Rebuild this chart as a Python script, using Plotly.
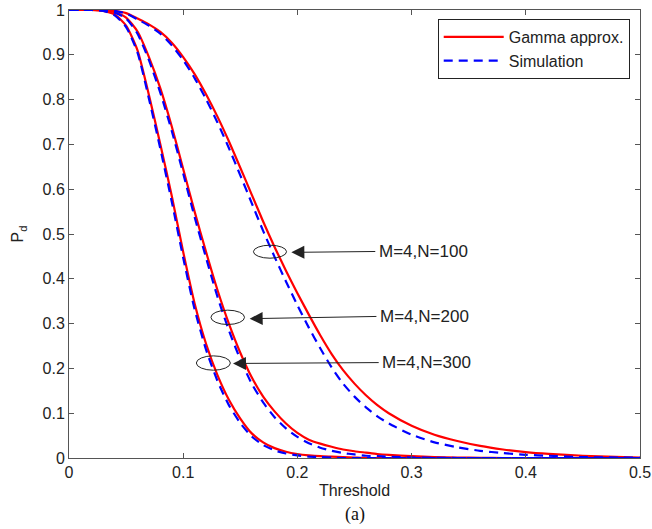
import plotly.graph_objects as go

# Threshold grid
threshold = [0, 0.01, 0.02, 0.03, 0.04, 0.05, 0.06, 0.07, 0.08, 0.09, 0.10, 0.11, 0.12,
             0.13, 0.14, 0.15, 0.16, 0.17, 0.18, 0.19, 0.20, 0.21, 0.22, 0.23, 0.24, 0.25,
             0.26, 0.27, 0.28, 0.30, 0.32, 0.34, 0.36, 0.38, 0.40, 0.42, 0.45, 0.50]

# M=4, N=100
gamma_n100 = [1, 1, 1, 1, 0.998, 0.993, 0.981, 0.968, 0.951, 0.927, 0.895, 0.857, 0.812,
              0.762, 0.707, 0.648, 0.588, 0.528, 0.471, 0.418, 0.368, 0.32, 0.274, 0.232, 0.196, 0.166,
              0.14, 0.118, 0.1, 0.072, 0.052, 0.038, 0.027, 0.019, 0.013, 0.009, 0.005, 0.001]
sim_n100 = [1, 1, 1, 1, 0.998, 0.992, 0.979, 0.965, 0.947, 0.921, 0.888, 0.848, 0.801,
            0.749, 0.692, 0.631, 0.569, 0.507, 0.449, 0.394, 0.341, 0.291, 0.245, 0.202, 0.166, 0.137,
            0.113, 0.093, 0.077, 0.052, 0.035, 0.024, 0.016, 0.011, 0.007, 0.005, 0.002, 0.0005]

# M=4, N=200
gamma_n200 = [1, 1, 1, 0.999, 0.995, 0.983, 0.952, 0.895, 0.825, 0.74, 0.645, 0.55, 0.46,
              0.375, 0.3, 0.235, 0.18, 0.137, 0.104, 0.077, 0.056, 0.041, 0.032, 0.025, 0.019, 0.015,
              0.012, 0.009, 0.007, 0.004, 0.002, 0.001, 0.0005, 0, 0, 0, 0, 0]
sim_n200 = [1, 1, 1, 0.999, 0.994, 0.981, 0.947, 0.888, 0.815, 0.73, 0.635, 0.538, 0.447,
            0.36, 0.285, 0.22, 0.166, 0.124, 0.091, 0.066, 0.047, 0.033, 0.023, 0.016, 0.011, 0.008,
            0.005, 0.004, 0.003, 0.001, 0.0005, 0, 0, 0, 0, 0, 0, 0]

# M=4, N=300
gamma_n300 = [1, 1, 1, 0.998, 0.99, 0.965, 0.91, 0.81, 0.70, 0.585, 0.46, 0.345, 0.255,
              0.185, 0.13, 0.088, 0.055, 0.035, 0.022, 0.014, 0.009, 0.006, 0.004, 0.003, 0.002, 0.001,
              0, 0, 0, 0, 0, 0, 0, 0, 0, 0, 0, 0]
sim_n300 = [1, 1, 1, 0.998, 0.988, 0.962, 0.905, 0.802, 0.69, 0.572, 0.447, 0.332, 0.242,
            0.172, 0.118, 0.078, 0.048, 0.029, 0.017, 0.01, 0.006, 0.003, 0.002, 0.001, 0, 0,
            0, 0, 0, 0, 0, 0, 0, 0, 0, 0, 0, 0]

labels = ["M=4,N=100", "M=4,N=200", "M=4,N=300"]
# ellipse centres / semi-axes (data units), arrow tip, text start
ell_cx = [0.176, 0.139, 0.1264]
ell_cy = [0.4605, 0.314, 0.212]
ell_rx = [0.0145, 0.0147, 0.0149]
ell_ry = [0.0145, 0.016, 0.016]
arrow_tip_x = [0.1947, 0.1582, 0.1436]
arrow_tip_y = [0.459, 0.311, 0.211]
text_x = [0.2695, 0.2705, 0.2725]
text_y = [0.461, 0.316, 0.213]

fig = go.Figure()

pairs = [(gamma_n100, sim_n100), (gamma_n200, sim_n200), (gamma_n300, sim_n300)]
for i, (g, s) in enumerate(pairs):
    fig.add_trace(go.Scatter(x=threshold, y=g, mode="lines", name="Gamma approx.",
                             line=dict(color="#ff0000", width=2.2, shape="spline", smoothing=0.6),
                             legendgroup="g", showlegend=(i == 0)))
for i, (g, s) in enumerate(pairs):
    fig.add_trace(go.Scatter(x=threshold, y=s, mode="lines", name="Simulation",
                             line=dict(color="#0000ff", width=2.2, dash="9px,6px",
                                       shape="spline", smoothing=0.6),
                             legendgroup="s", showlegend=(i == 0)))

for i in range(3):
    fig.add_shape(type="circle", xref="x", yref="y",
                  x0=ell_cx[i] - ell_rx[i], x1=ell_cx[i] + ell_rx[i],
                  y0=ell_cy[i] - ell_ry[i], y1=ell_cy[i] + ell_ry[i],
                  line=dict(color="#222222", width=1))
    fig.add_annotation(x=arrow_tip_x[i], y=arrow_tip_y[i], ax=text_x[i], ay=text_y[i],
                       xref="x", yref="y", axref="x", ayref="y", text="",
                       showarrow=True, arrowhead=2, arrowsize=2.6, arrowwidth=1,
                       arrowcolor="#222222")
    fig.add_annotation(x=text_x[i], y=text_y[i], xref="x", yref="y", text=labels[i],
                       showarrow=False, xanchor="left", yanchor="middle",
                       font=dict(family="Liberation Sans, Arial", size=17, color="#222222"))

fig.add_annotation(x=0.5, xref="paper", y=-0.127, yref="paper", yanchor="middle",
                   text="(a)", showarrow=False,
                   font=dict(family="Liberation Serif, Times New Roman", size=18, color="#111111"))

axis_common = dict(showline=True, linecolor="#555555", linewidth=1, mirror="ticks",
                   ticks="inside", ticklen=5, tickcolor="#555555", showgrid=False,
                   zeroline=False, automargin=False,
                   tickfont=dict(family="Liberation Sans, Arial", size=16, color="#222222"))

fig.update_xaxes(range=[0, 0.5], tickvals=[0, 0.1, 0.2, 0.3, 0.4, 0.5],
                 ticktext=["0", "0.1", "0.2", "0.3", "0.4", "0.5"],
                 title=dict(text="Threshold", standoff=4,
                            font=dict(family="Liberation Sans, Arial", size=16, color="#222222")),
                 **axis_common)
fig.update_yaxes(range=[0, 1], tickvals=[i / 10 for i in range(11)],
                 ticktext=["0", "0.1", "0.2", "0.3", "0.4", "0.5", "0.6", "0.7", "0.8", "0.9", "1"],
                 title=dict(text="P<sub>d</sub>", standoff=14,
                            font=dict(family="Liberation Sans, Arial", size=16, color="#222222")),
                 **axis_common)

fig.update_layout(
    width=652, height=529,
    margin=dict(l=69, r=12, t=10, b=71),
    plot_bgcolor="white", paper_bgcolor="white",
    legend=dict(x=0.982, y=0.98, xanchor="right", yanchor="top",
                bgcolor="white", bordercolor="#222222", borderwidth=1,
                font=dict(family="Liberation Sans, Arial", size=16, color="#222222"),
                itemwidth=60, tracegroupgap=0),
    showlegend=True,
)

fig.write_html("out.html", config={"displayModeBar": False},
               post_script="document.body.style.margin='0';document.body.style.overflow='hidden';")
